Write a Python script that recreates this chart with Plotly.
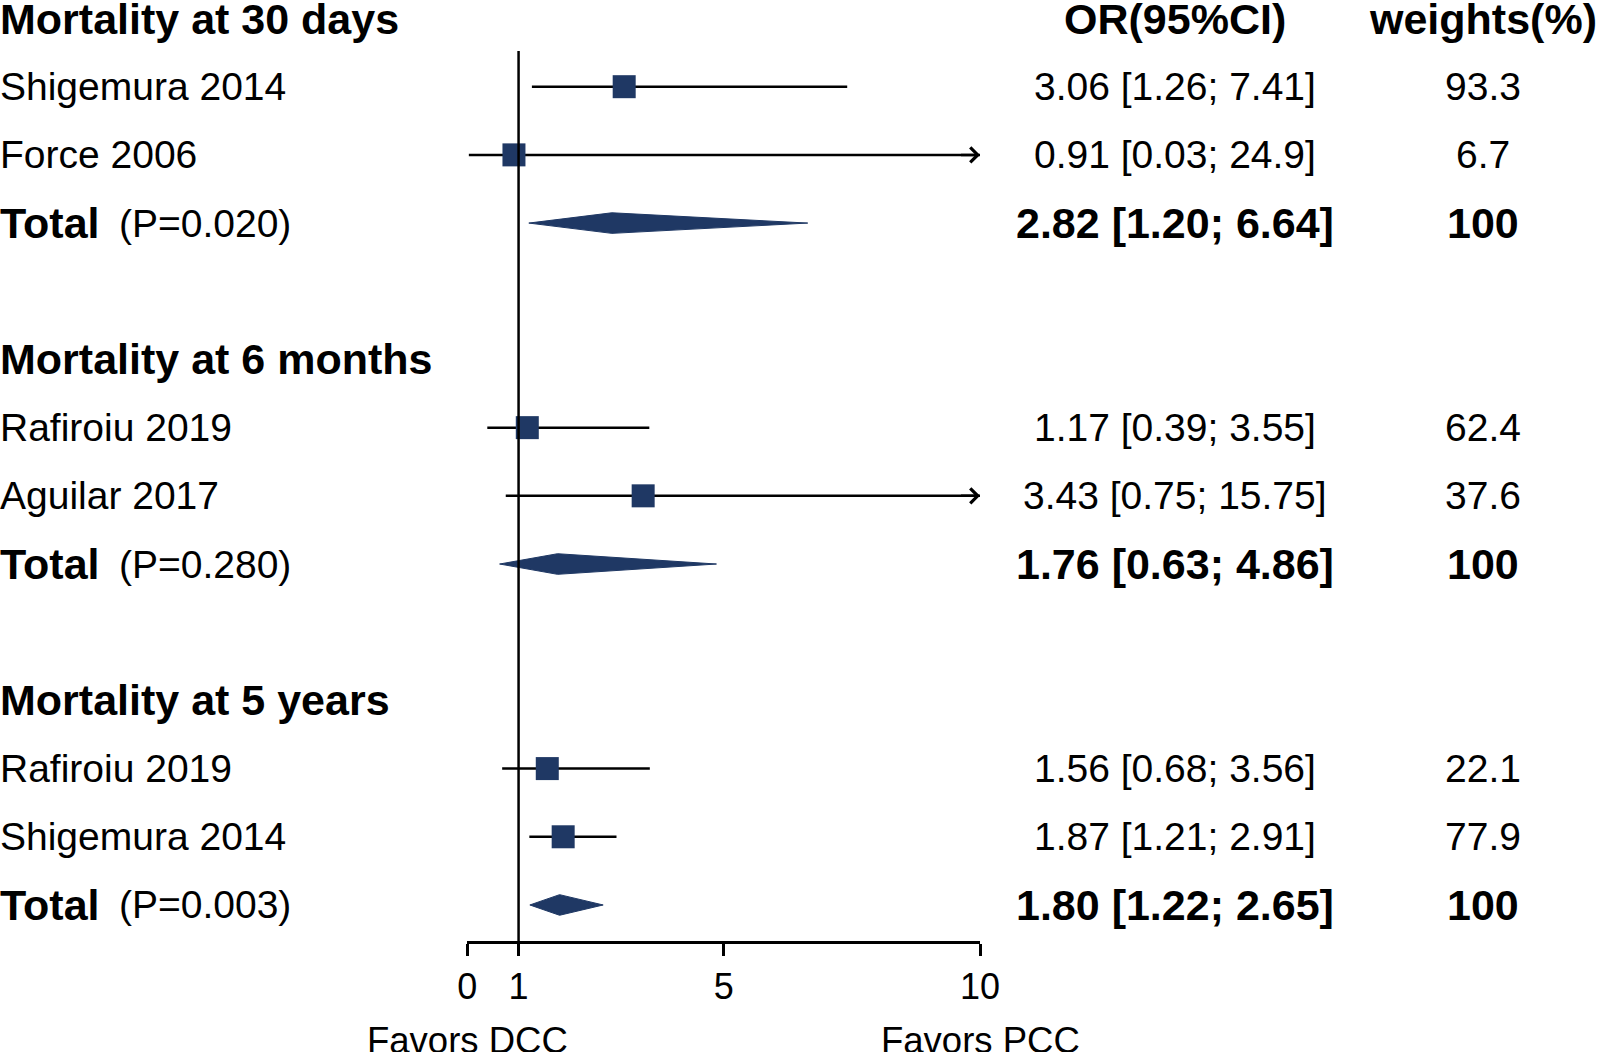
import plotly.graph_objects as go

# ---------------- data ----------------
group_labels = ["Mortality at 30 days", "Mortality at 6 months", "Mortality at 5 years"]
group_rows = [0, 5, 10]

study_labels = ["Shigemura 2014", "Force 2006", "Rafiroiu 2019", "Aguilar 2017",
                "Rafiroiu 2019", "Shigemura 2014"]
study_rows = [1, 2, 6, 7, 11, 12]
study_or = [3.06, 0.91, 1.17, 3.43, 1.56, 1.87]
study_lo = [1.26, 0.03, 0.39, 0.75, 0.68, 1.21]
study_hi = [7.41, 24.9, 3.55, 15.75, 3.56, 2.91]
study_weight = [93.3, 6.7, 62.4, 37.6, 22.1, 77.9]

total_rows = [3, 8, 13]
total_or = [2.82, 1.76, 1.80]
total_lo = [1.20, 0.63, 1.22]
total_hi = [6.64, 4.86, 2.65]
total_p = ["0.020", "0.280", "0.003"]
total_weight = [100, 100, 100]

x_ticks = [0, 1, 5, 10]
x_tick_labels = ["0", "1", "5", "10"]
x_max = 10
ref_value = 1

# ---------------- style ----------------
W, H = 1600, 1052
NAVY = "#1F3864"
FONT = "Liberation Sans, Arial, Helvetica, sans-serif"
REG = 39
BOLD = 43
SMALL = 36.5
ROW0_PX = 18.5
ROW_PX = 68.19
AXIS_PX = 941
X0_PX, X10_PX = 467.3, 980.0
y_top = -ROW0_PX / ROW_PX
y_bot = (AXIS_PX - ROW0_PX) / ROW_PX
ref_top = (51 - ROW0_PX) / ROW_PX
DIAMOND_H = 10.3 / ROW_PX
LW = 2.5

fig = go.Figure()

# CI lines
cx, cy = [], []
for r, lo, hi in zip(study_rows, study_lo, study_hi):
    cx += [lo, min(hi, x_max), None]
    cy += [r, r, None]
fig.add_trace(go.Scatter(x=cx, y=cy, mode="lines",
                         line=dict(color="black", width=LW),
                         hoverinfo="skip", showlegend=False))

# squares
fig.add_trace(go.Scatter(x=study_or, y=study_rows, mode="markers",
                         marker=dict(symbol="square", size=23, color=NAVY,
                                     line=dict(width=0)),
                         cliponaxis=False, showlegend=False))

# diamonds
for r, est, lo, hi in zip(total_rows, total_or, total_lo, total_hi):
    fig.add_trace(go.Scatter(x=[lo, est, hi, est, lo],
                             y=[r, r - DIAMOND_H, r, r + DIAMOND_H, r],
                             mode="lines", fill="toself", fillcolor=NAVY,
                             line=dict(color=NAVY, width=1),
                             hoverinfo="skip", showlegend=False))

# reference line
fig.add_shape(type="line", xref="x", yref="y", x0=ref_value, x1=ref_value,
              y0=ref_top, y1=y_bot, line=dict(color="black", width=LW))

ann = []
# arrows for CIs beyond axis
for r, hi in zip(study_rows, study_hi):
    if hi > x_max:
        ann.append(dict(x=x_max, y=r, ax=x_max - 0.4, ay=r, xref="x", yref="y",
                        axref="x", ayref="y", text="", showarrow=True,
                        arrowhead=4, arrowsize=1.15, arrowwidth=LW,
                        arrowcolor="black", standoff=0, startstandoff=0))

def txt(x, y, s, size, xanchor="left", yref="y", xref="paper"):
    ann.append(dict(x=x, y=y, xref=xref, yref=yref, text=s, showarrow=False,
                    xanchor=xanchor, yanchor="middle",
                    font=dict(family=FONT, size=size, color="black")))

LABEL_X = -2 / W
P_X = 117 / W
OR_X = 1175 / W
WT_X = 1483 / W

# headers
for g, r in zip(group_labels, group_rows):
    txt(LABEL_X, r, "<b>" + g + "</b>", BOLD)
txt(OR_X, group_rows[0], "<b>OR(95%CI)</b>", BOLD, xanchor="center")
txt(WT_X, group_rows[0], "<b>weights(%)</b>", BOLD, xanchor="center")

# study rows
for lab, r, est, lo, hi, w in zip(study_labels, study_rows, study_or,
                                   study_lo, study_hi, study_weight):
    txt(LABEL_X, r, lab, REG)
    txt(OR_X, r, f"{est:.2f} [{lo:.2f}; {hi:g}]", REG, xanchor="center")
    txt(WT_X, r, f"{w:g}", REG, xanchor="center")

# totals
for r, est, lo, hi, p, w in zip(total_rows, total_or, total_lo, total_hi,
                                 total_p, total_weight):
    txt(LABEL_X, r, "<b>Total</b>", BOLD)
    txt(P_X, r, f"(P={p})", REG)
    txt(OR_X, r, f"<b>{est:.2f} [{lo:.2f}; {hi:.2f}]</b>", BOLD, xanchor="center")
    txt(WT_X, r, f"<b>{w:g}</b>", BOLD, xanchor="center")

# favors labels
fav_y = 1 - 1040 / H
txt(x_ticks[0], fav_y, "Favors DCC", SMALL, xanchor="center", yref="paper", xref="x")
txt(x_ticks[-1], fav_y, "Favors PCC", SMALL, xanchor="center", yref="paper", xref="x")

fig.update_layout(
    width=W, height=H, autosize=False,
    margin=dict(l=0, r=0, t=0, b=0, pad=0, autoexpand=False),
    paper_bgcolor="white", plot_bgcolor="white",
    showlegend=False,
    annotations=ann,
    font=dict(family=FONT, size=REG, color="black"),
    xaxis=dict(domain=[X0_PX / W, X10_PX / W], range=[0, x_max],
               showgrid=False, zeroline=False,
               showline=True, linecolor="black", linewidth=LW,
               ticks="outside", ticklen=12, tickwidth=LW, tickcolor="black",
               tickvals=x_ticks, ticktext=x_tick_labels,
               tickfont=dict(family=FONT, size=36, color="black"),
               fixedrange=True),
    yaxis=dict(domain=[1 - AXIS_PX / H, 1], range=[y_bot, y_top],
               visible=False, fixedrange=True),
)

fig.write_html(
    "out.html",
    config={"responsive": False, "displayModeBar": False},
    post_script="document.body.style.margin='0';document.body.style.overflow='hidden';",
)
